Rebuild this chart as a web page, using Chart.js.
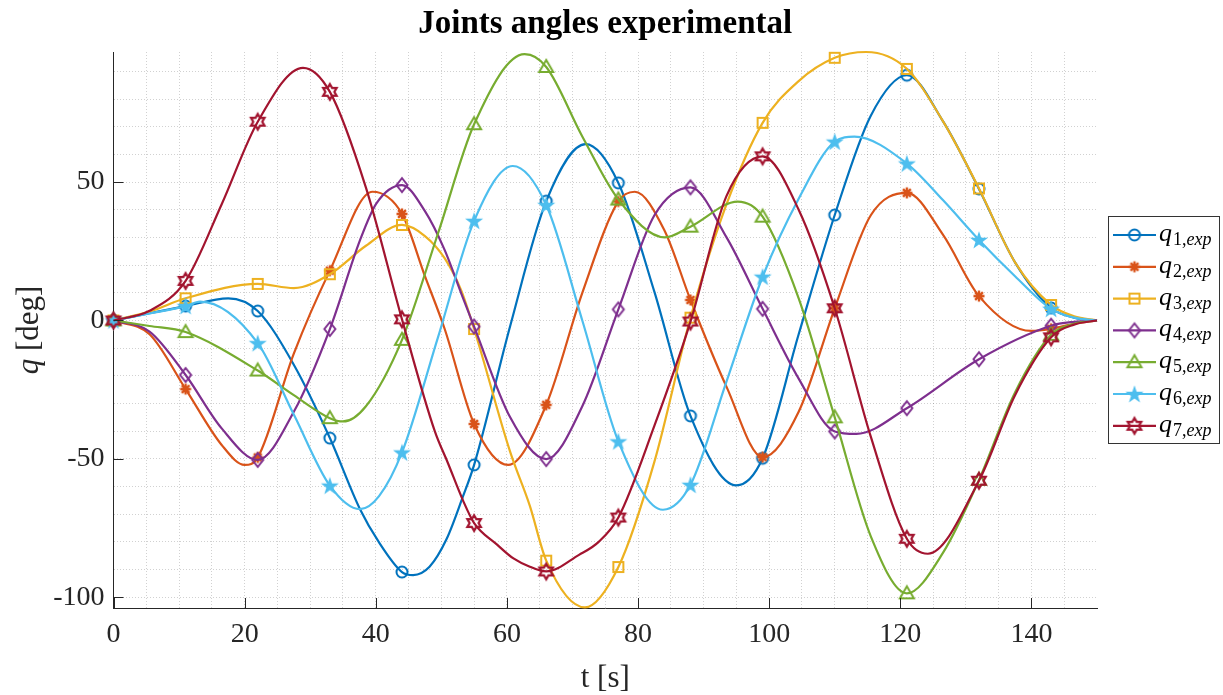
<!DOCTYPE html>
<html>
<head>
<meta charset="utf-8">
<title>Joints angles experimental</title>
<script src="https://cdn.jsdelivr.net/npm/chart.js@4.4.1/dist/chart.umd.min.js"></script>
<style>
  html, body { margin: 0; padding: 0; background: #fff; }
  #wrap { width: 1223px; height: 695px; position: relative; }
</style>
</head>
<body>
<div id="wrap"><canvas id="chart"></canvas></div>
<script>
'use strict';

// Valores: pares [t (s), q (deg)]
const Q1 = [[0,0],[5.5,2.6],[11,5.2],[17.5,8.0],[22,3.4],[27.5,-16],[33,-42.5],[37.6,-68.2],[40.5,-80.2],[44,-90.9],[45.7,-92],[48.2,-89],[50.8,-79],[53.3,-63.6],[55,-52.2],[60.5,-2],[66,43.1],[72,63.7],[77,49.7],[82.5,10.3],[88,-34.5],[95,-59.6],[99,-49.8],[104.5,-5],[110,38.1],[115.5,74],[121,88.6],[126.5,72],[132,47.5],[137.5,21],[143,4.5],[146.5,1.0],[150,0]];
const Q2 = [[0,0],[5.5,-5],[11,-24.8],[16.5,-45],[20,-52.2],[22,-49.5],[27.5,-12],[33,18],[39.5,46.5],[44,38.5],[47.5,16],[50.5,-3],[55,-37.4],[60.2,-52.2],[66,-30.5],[71.5,10],[77,43],[79.5,46.5],[84,32.7],[88,7.4],[93.5,-24],[99,-49.4],[104.5,-33],[110,4.4],[115.5,38],[121,46.1],[126.5,31],[132,8.8],[140,-3.8],[143,-3.0],[146.5,-1.2],[150,0]];
const Q3 = [[0,0],[5.5,3.2],[11,8.0],[22,13.2],[27.5,11.7],[33,16.7],[38.5,27],[44,34.5],[47.5,30.5],[50.5,22.5],[53,11],[55,-3.1],[60.5,-47.5],[63.5,-67],[66,-86.8],[71.9,-103.7],[77,-89.1],[82.5,-51],[88,1.0],[93.5,42],[99,71.4],[104.5,86.5],[110,94.9],[114.8,97.0],[121,90.9],[126.5,72],[132,47.7],[137.5,21],[143,5.6],[146.5,1.5],[150,0]];
const Q4 = [[0,0],[5.5,-4],[11,-19.7],[16.5,-39],[22,-50.4],[27.5,-33],[33,-3.1],[37.6,29],[40.1,42.3],[44,48.9],[47.5,39.5],[50.5,25.5],[53,10],[55,-2.2],[60.5,-35],[66,-50.1],[71.5,-31],[77,4.0],[82.5,38],[88,48.1],[93.5,30],[99,4.2],[104.5,-21],[110,-40.1],[113.3,-41.0],[121,-31.7],[132,-14.0],[143,-1.9],[146.5,-0.5],[150,0]];
const Q5 = [[0,0],[5.5,-2],[11,-4.2],[22,-18.1],[27.5,-27],[33,-35.3],[35,-36.5],[38.5,-31],[44,-7.0],[49.5,31.5],[55,70.9],[62.7,96.2],[66,91.6],[71.5,66.5],[77,43.7],[84.1,30.0],[88,33.9],[95.2,42.9],[99,37.5],[104.5,8],[110,-35],[115.5,-78],[121,-98.6],[126.5,-84],[132,-57.6],[137.5,-26],[143,-5.2],[146.5,-1.2],[150,0]];
const Q6 = [[0,0],[5.5,2.5],[11,5.2],[13.2,6.8],[22,-8.2],[27.5,-34],[33,-59.7],[37.6,-68.2],[40.5,-63.5],[44,-47.7],[49.5,-6],[55,36.0],[60.9,55.8],[66,41.7],[71.5,0],[77,-43.7],[83.8,-68.4],[88,-59.4],[93.5,-22],[99,15.8],[104.5,44],[110,64.6],[113,66.4],[121,56.7],[126.5,43.5],[132,29.1],[137.5,16],[143,4.2],[146.5,1.0],[150,0]];
const Q7 = [[0,0],[5.5,3.5],[11,14.3],[16.5,42],[22,71.8],[28.9,91.3],[33,82.6],[38.5,48],[44,0.4],[49,-40],[51,-51.5],[53.3,-65],[55,-73.2],[58.5,-81],[61,-86],[63.5,-89],[66,-90.7],[71,-84.7],[74,-80],[77,-71.2],[82.5,-38],[88,-0.4],[93.5,45],[99,59.3],[104.5,40],[110,4.4],[115.5,-42],[121,-78.9],[124.2,-84.3],[132,-57.9],[137.5,-27],[143,-6.1],[146.5,-1.5],[150,0]];

// instantes con marcador
const MARKER_T = [0, 11, 22, 33, 44, 55, 66, 77, 88, 99, 110, 121, 132, 143];
const X_TICK_LABELS = [0, 20, 40, 60, 80, 100, 120, 140];
const Y_TICK_LABELS = [-100, -50, 0, 50];
const SERIES_INDEX = ['1', '2', '3', '4', '5', '6', '7'];
const X_MIN = 0, X_MAX = 150;
const Y_MIN = -103.9, Y_MAX = 97.0;

const SERIES = [Q1, Q2, Q3, Q4, Q5, Q6, Q7];
const COLORS = ['#0072BD', '#D95319', '#EDB120', '#7E2F8E', '#77AC30', '#4DBEEE', '#A2142F'];
const SHAPES = ['circle', 'asterisk', 'square', 'diamond', 'triangle', 'pentagram', 'hexagram'];

const SERIF = '"Liberation Serif", "DejaVu Serif", serif';
const TEXT_COLOR = '#262626';
const AXIS_COLOR = '#262626';
const GRID_COLOR = 'rgba(0,0,0,0.18)';

// rejilla: cada 5 s en x, cada 10 deg en y
const X_GRID = [];
for (let v = 0; v < X_MAX; v += 5) X_GRID.push(v);
const Y_GRID = [];
for (let v = -100; v < Y_MAX; v += 10) Y_GRID.push(v);

/**
 * Dibuja un marcador estilo MATLAB en un canvas pequeño
 */
function makeMarker(shape, color) {
  const s = 24, c = s / 2;
  const cv = document.createElement('canvas');
  cv.width = cv.height = s;
  const g = cv.getContext('2d');
  g.strokeStyle = color;
  g.fillStyle = color;
  g.lineWidth = 2;
  g.lineJoin = 'miter';
  g.beginPath();
  switch (shape) {
    case 'circle':
      g.arc(c, c, 5.5, 0, Math.PI * 2);
      g.stroke();
      break;
    case 'asterisk':
      g.lineWidth = 2.4;
      for (let k = 0; k < 4; k++) {
        const a = k * Math.PI / 4;
        g.moveTo(c - Math.cos(a) * 5.5, c - Math.sin(a) * 5.5);
        g.lineTo(c + Math.cos(a) * 5.5, c + Math.sin(a) * 5.5);
      }
      g.stroke();
      break;
    case 'square':
      g.rect(c - 5, c - 5, 10, 10);
      g.stroke();
      break;
    case 'diamond':
      g.moveTo(c, c - 7); g.lineTo(c + 5.5, c); g.lineTo(c, c + 7); g.lineTo(c - 5.5, c);
      g.closePath();
      g.stroke();
      break;
    case 'triangle':
      g.moveTo(c, c - 7); g.lineTo(c + 7, c + 5); g.lineTo(c - 7, c + 5);
      g.closePath();
      g.stroke();
      break;
    case 'pentagram':
      for (let k = 0; k < 10; k++) {
        const r = k % 2 === 0 ? 9.5 : 3.7;
        const a = -Math.PI / 2 + k * Math.PI / 5;
        const px = c + Math.cos(a) * r, py = c + 0.8 + Math.sin(a) * r;
        if (k === 0) g.moveTo(px, py); else g.lineTo(px, py);
      }
      g.closePath();
      g.fill();
      break;
    case 'hexagram':
      for (let k = 0; k < 12; k++) {
        const r = k % 2 === 0 ? 7.8 : 4.5;
        const a = -Math.PI / 2 + k * Math.PI / 6;
        const px = c + Math.cos(a) * r, py = c + Math.sin(a) * r;
        if (k === 0) g.moveTo(px, py); else g.lineTo(px, py);
      }
      g.closePath();
      g.lineWidth = 2.2;
      g.stroke();
      break;
  }
  return cv;
}

const MARKERS = SHAPES.map((sh, i) => makeMarker(sh, COLORS[i]));

const datasets = SERIES.map((pts, i) => ({
  label: 'q' + SERIES_INDEX[i] + ',exp',
  data: pts.map(([t, q]) => ({ x: t, y: q })),
  borderColor: COLORS[i],
  borderWidth: 2.2,
  cubicInterpolationMode: 'monotone',
  pointStyle: MARKERS[i],
  pointRadius: pts.map(([t]) => MARKER_T.includes(t) ? 6 : 0),
  pointHoverRadius: 0,
  clip: false,
  order: SERIES.length - i
}));

// títulos, marcas interiores y leyenda
const decor = {
  id: 'decor',
  afterDraw(chart) {
    const { ctx, chartArea: a, scales: { x, y } } = chart;
    ctx.save();

    // marcas hacia dentro
    ctx.strokeStyle = AXIS_COLOR;
    ctx.lineWidth = 1;
    ctx.beginPath();
    X_TICK_LABELS.forEach(v => {
      const px = Math.round(x.getPixelForValue(v)) + 0.5;
      ctx.moveTo(px, a.bottom);
      ctx.lineTo(px, a.bottom - 10);
    });
    Y_TICK_LABELS.forEach(v => {
      const py = Math.round(y.getPixelForValue(v)) + 0.5;
      ctx.moveTo(a.left, py);
      ctx.lineTo(a.left + 10, py);
    });
    ctx.stroke();

    const cx = (a.left + a.right) / 2;
    ctx.fillStyle = '#000';
    ctx.textAlign = 'center';
    ctx.textBaseline = 'alphabetic';
    ctx.font = 'bold 33px ' + SERIF;
    ctx.fillText('Joints angles experimental', cx, 33);

    ctx.fillStyle = TEXT_COLOR;
    ctx.font = '31px ' + SERIF;
    ctx.fillText('t [s]', cx, 687);

    // q [deg] girado
    ctx.save();
    ctx.translate(38, (a.top + a.bottom) / 2);
    ctx.rotate(-Math.PI / 2);
    ctx.textAlign = 'left';
    ctx.font = 'italic 31px ' + SERIF;
    const wq = ctx.measureText('q').width;
    ctx.font = '31px ' + SERIF;
    const wr = ctx.measureText(' [deg]').width;
    const x0 = -(wq + wr) / 2;
    ctx.font = 'italic 31px ' + SERIF;
    ctx.fillText('q', x0, 0);
    ctx.font = '31px ' + SERIF;
    ctx.fillText(' [deg]', x0 + wq, 0);
    ctx.restore();

    // leyenda
    const L = { left: 1108.5, top: 216.5, right: 1219.5, bottom: 443.5, row0: 235, step: 31.8 };
    ctx.fillStyle = '#fff';
    ctx.fillRect(L.left, L.top, L.right - L.left, L.bottom - L.top);
    ctx.strokeStyle = '#333';
    ctx.lineWidth = 1;
    ctx.strokeRect(L.left, L.top, L.right - L.left, L.bottom - L.top);
    ctx.textAlign = 'left';
    SERIES.forEach((_, i) => {
      const ry = L.row0 + i * L.step;
      ctx.strokeStyle = COLORS[i];
      ctx.lineWidth = 2.2;
      ctx.beginPath();
      ctx.moveTo(1113, ry);
      ctx.lineTo(1156, ry);
      ctx.stroke();
      const m = MARKERS[i];
      ctx.drawImage(m, 1134.5 - m.width / 2, ry - m.height / 2);

      ctx.fillStyle = '#000';
      let tx = 1159;
      ctx.font = 'italic 26px ' + SERIF;
      ctx.fillText('q', tx, ry + 6);
      tx += ctx.measureText('q').width + 1;
      ctx.font = '18px ' + SERIF;
      ctx.fillText(SERIES_INDEX[i] + ',', tx, ry + 10);
      tx += ctx.measureText(SERIES_INDEX[i] + ',').width;
      ctx.font = 'italic 18px ' + SERIF;
      ctx.fillText('exp', tx, ry + 10);
    });

    ctx.restore();
  }
};

new Chart(document.getElementById('chart'), {
  type: 'line',
  data: { datasets },
  options: {
    responsive: true,
    maintainAspectRatio: false,
    animation: false,
    devicePixelRatio: 1,
    events: [],
    layout: { padding: { top: 52, right: 126, bottom: 0, left: 0 } },
    plugins: {
      legend: { display: false },
      title: { display: false },
      tooltip: { enabled: false }
    },
    scales: {
      x: {
        type: 'linear',
        min: X_MIN,
        max: X_MAX,
        afterBuildTicks: s => { s.ticks = X_GRID.map(v => ({ value: v })); },
        afterFit: s => { s.height = 87; },
        grid: { color: GRID_COLOR, lineWidth: 1, drawTicks: false },
        border: { display: true, color: AXIS_COLOR, width: 1, dash: [1, 2] },
        ticks: {
          autoSkip: false, maxRotation: 0, minRotation: 0, padding: 10,
          color: TEXT_COLOR, font: { family: SERIF, size: 28 },
          callback: v => X_TICK_LABELS.includes(v) ? String(v) : ''
        }
      },
      y: {
        type: 'linear',
        min: Y_MIN,
        max: Y_MAX,
        afterBuildTicks: s => { s.ticks = Y_GRID.map(v => ({ value: v })); },
        afterFit: s => { s.width = 113.5; },
        grid: { color: GRID_COLOR, lineWidth: 1, drawTicks: false },
        border: { display: true, color: AXIS_COLOR, width: 1, dash: [1, 2] },
        ticks: {
          autoSkip: false, padding: 9,
          color: TEXT_COLOR, font: { family: SERIF, size: 28 },
          callback: v => Y_TICK_LABELS.includes(v) ? String(v) : ''
        }
      }
    }
  },
  plugins: [decor]
});
</script>
</body>
</html>
